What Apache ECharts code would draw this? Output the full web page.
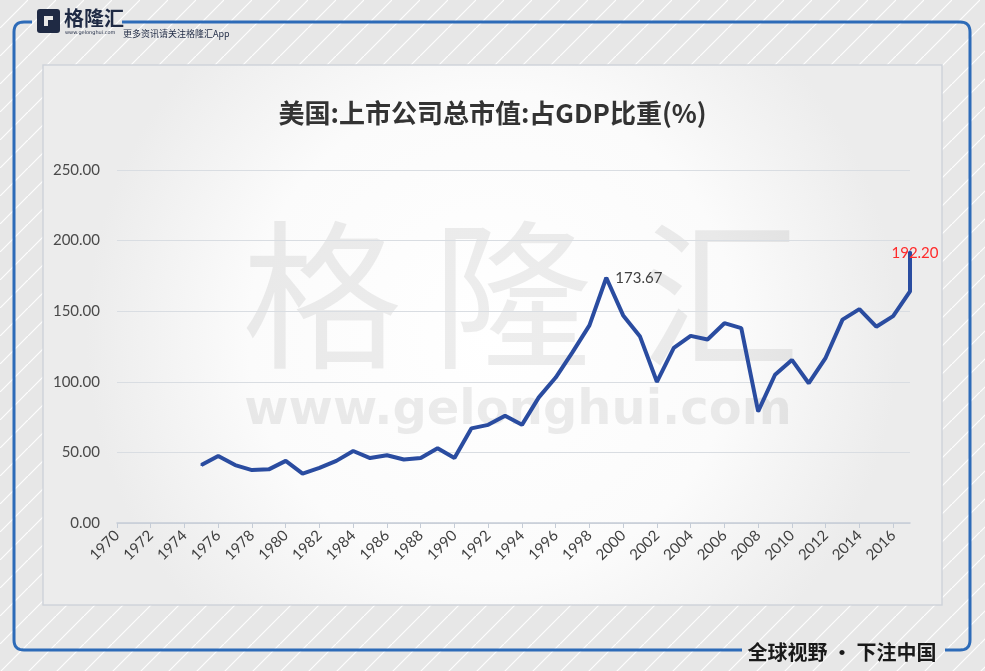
<!DOCTYPE html>
<html><head><meta charset="utf-8">
<script src="https://cdn.jsdelivr.net/npm/echarts@6/dist/echarts.min.js"></script>
<style>html,body{margin:0;padding:0;background:#e8e8e8;}#c{width:985px;height:671px;}</style>
</head><body><div id="c"></div>
<script>
const categories = [];
for (let y = 1970; y <= 2017; y++) categories.push(String(y));
const years = ['1975','1976','1977','1978','1979','1980','1981','1982','1983','1984','1985','1986','1987','1988','1989','1990','1991','1992','1993','1994','1995','1996','1997','1998','1999','2000','2001','2002','2003','2004','2005','2006','2007','2008','2009','2010','2011','2012','2013','2014','2015','2016','2017','2017'];
const values = [41,47.5,41,37.5,38,44,35,39,44,51,46,48,45,46,53,46,67,69.5,76,69.5,89,103,121,140,173.67,147,132,100,124,132.5,130,141.5,138,79,105,115.5,99,117,144,151.5,139,146.5,164,192.2];
const yTicks = {min:0, max:250, interval:50};
const titleText = '美国:上市公司总市值:占GDP比重(%)';
const peakIndex = 24, lastIndex = values.length - 1;
const numFont = 'Lato';

const pc = document.createElement('canvas'); pc.width = 28; pc.height = 28;
const g = pc.getContext('2d');
g.fillStyle = '#e7e7e7'; g.fillRect(0,0,28,28);
g.strokeStyle = 'rgba(255,255,255,0.95)'; g.lineWidth = 1.2;
g.beginPath(); g.moveTo(-1,29); g.lineTo(29,-1); g.stroke();

function rounded(pts, r) {
  const out = [pts[0]];
  for (let i = 1; i < pts.length - 1; i++) {
    const [px,py] = pts[i-1], [cx,cy] = pts[i], [nx,ny] = pts[i+1];
    const d1 = Math.hypot(cx-px, cy-py), d2 = Math.hypot(nx-cx, ny-cy);
    const a = [cx - (cx-px)/d1*r, cy - (cy-py)/d1*r];
    const b = [cx + (nx-cx)/d2*r, cy + (ny-cy)/d2*r];
    for (let t = 0; t <= 1.0001; t += 0.125) {
      const u = 1-t;
      out.push([u*u*a[0] + 2*u*t*cx + t*t*b[0], u*u*a[1] + 2*u*t*cy + t*t*b[1]]);
    }
  }
  out.push(pts[pts.length-1]);
  return out;
}

const seriesData = years.map((y,i) => {
  const item = {value:[y, values[i]]};
  if (i === peakIndex) item.label = {show:true, position:'right', distance:8, color:'#404040', fontSize:15, fontFamily:numFont, formatter: p => p.value[1].toFixed(2)};
  if (i === lastIndex) item.label = {show:true, position:'top', offset:[5,15], color:'#ff2a2a', fontSize:15, fontFamily:numFont, formatter: p => p.value[1].toFixed(2)};
  return item;
});

const chart = echarts.init(document.getElementById('c'));
chart.setOption({
  backgroundColor: {image: pc, repeat: 'repeat'},
  animation: false,
  title: {text: titleText, left: 'center', top: 95, textStyle: {fontFamily:'Noto Sans CJK SC', fontWeight:'bold', fontSize:26, color:'#333'}},
  grid: {left:117, right:75, top:170, bottom:148},
  xAxis: {type:'category', data: categories, boundaryGap:false,
    axisLine:{lineStyle:{color:'#c5ccd6', width:1.5}},
    axisTick:{interval:1, lineStyle:{color:'#c5ccd6'}, length:5},
    axisLabel:{interval:1, rotate:45, color:'#404040', fontSize:15, fontFamily:numFont, margin:10},
    splitLine:{show:false}},
  yAxis: {type:'value', min:yTicks.min, max:yTicks.max, interval:yTicks.interval,
    axisLine:{show:false}, axisTick:{show:false},
    axisLabel:{color:'#4a4a4a', fontSize:15, fontFamily:numFont, margin:17, formatter: v => v.toFixed(2)},
    splitLine:{lineStyle:{color:'#d9dde2', width:1.2}}},
  graphic: [
    {type:'rect', z:-10, shape:{x:43,y:65,width:899,height:540}, style:{fill:{type:'radial',x:0.5,y:0.5,r:0.75,colorStops:[{offset:0,color:'#ffffff'},{offset:0.6,color:'#fbfbfb'},{offset:1,color:'#ececec'}]}, stroke:'#cfd4da', lineWidth:1.5}},
    {type:'text', z:-5, style:{text:'格', x:322, y:295, align:'center', verticalAlign:'middle', font:'160px "Noto Sans CJK SC"', fill:'rgba(0,0,0,0.07)'}},
    {type:'text', z:-5, style:{text:'隆', x:512, y:295, align:'center', verticalAlign:'middle', font:'160px "Noto Sans CJK SC"', fill:'rgba(0,0,0,0.07)'}},
    {type:'text', z:-5, style:{text:'汇', x:720, y:295, align:'center', verticalAlign:'middle', font:'160px "Noto Sans CJK SC"', fill:'rgba(0,0,0,0.07)'}},
    {type:'text', z:-5, style:{text:'www.gelonghui.com', x:518, y:412, align:'center', verticalAlign:'middle', font:'bold 48px "DejaVu Sans"', fill:'rgba(0,0,0,0.075)'}},
    {type:'polyline', shape:{points: rounded([[32,22],[14,22],[14,650],[742,650]], 10)}, style:{fill:null, stroke:'#2d6bb8', lineWidth:3}},
    {type:'polyline', shape:{points: rounded([[122,22],[970,22],[970,650],[945,650]], 10)}, style:{fill:null, stroke:'#2d6bb8', lineWidth:3}},
    {type:'rect', shape:{x:37,y:9,width:23,height:24,r:3}, style:{fill:'#1f2a44'}},
    {type:'rect', shape:{x:44,y:16,width:9,height:10}, style:{fill:'#e8e8e8'}},
    {type:'rect', shape:{x:48,y:20,width:12,height:6}, style:{fill:'#1f2a44'}},
    {type:'text', style:{text:'格隆汇', x:64, y:8, font:'bold 20px "Noto Sans CJK SC"', fill:'#1f2a44'}},
    {type:'text', style:{text:'www.gelonghui.com', x:65, y:30, font:'5px "DejaVu Sans"', fill:'#1f2a44'}},
    {type:'text', style:{text:'更多资讯请关注格隆汇App', x:123, y:29, font:'9px "Noto Sans CJK SC"', fill:'#1f2a44'}},
    {type:'text', style:{text:'全球视野 · 下注中国', x:842, y:652, align:'center', verticalAlign:'middle', font:'bold 20px "Noto Sans CJK SC"', fill:'#1a1a1a'}}
  ],
  series: [{type:'line', data: seriesData, symbol:'circle', symbolSize:2, showAllSymbol:true,
    itemStyle:{color:'#2a4ca0'}, lineStyle:{color:'#2a4ca0', width:4}, z:5}]
});
</script></body></html>
